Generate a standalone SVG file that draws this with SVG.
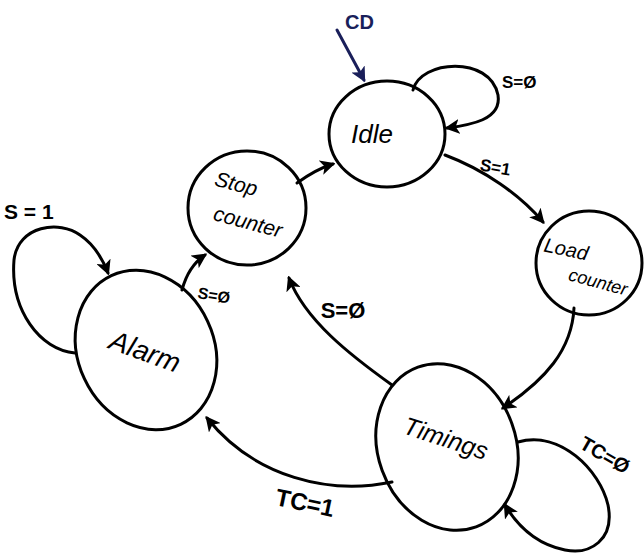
<svg xmlns="http://www.w3.org/2000/svg" width="644" height="554" viewBox="0 0 644 554">
<defs>
<style>
.st{fill:none;stroke:#000;stroke-width:3}
.cn{fill:none;stroke:#000;stroke-width:3;stroke-linecap:round}
.lb{font-family:"Liberation Sans",Arial,sans-serif;font-weight:bold;fill:#000}
.nm{font-family:"Liberation Sans",Arial,sans-serif;font-style:italic;fill:#000}
</style>
<marker id="ah" viewBox="0 0 12 12" refX="10" refY="6" markerWidth="5" markerHeight="5" orient="auto" markerUnits="strokeWidth">
<path d="M0,0 L12,6 L0,12 L3,6 Z" fill="#000"/>
</marker>
<marker id="ahb" viewBox="0 0 12 12" refX="10" refY="6" markerWidth="5" markerHeight="5" orient="auto" markerUnits="strokeWidth">
<path d="M0,0 L12,6 L0,12 L3,6 Z" fill="#1a1f5a"/>
</marker>
</defs>
<rect width="644" height="554" fill="#fff"/>

<g id="connectors">
<path class="cn" d="M337,30 L364,80" style="stroke:#1a1f5a" marker-end="url(#ahb)"/>
<path class="cn" d="M413,90 C420,60 490,55 498,95 C502,120 470,125 447,128" marker-end="url(#ah)"/>
<path class="cn" d="M445,155 C485,170 520,195 543,222" marker-end="url(#ah)"/>
<path class="cn" d="M574,308 C572,350 545,380 503,408" marker-end="url(#ah)"/>
<path class="cn" d="M392,385 C350,355 305,320 289,278" marker-end="url(#ah)"/>
<path class="cn" d="M392,482 C330,495 255,478 207,418" marker-end="url(#ah)"/>
<path class="cn" d="M75,353 C40,350 10,310 14,260 C18,225 60,220 80,235 C95,245 103,260 108,273" marker-end="url(#ah)"/>
<path class="cn" d="M182,290 C186,275 193,263 205,255" marker-end="url(#ah)"/>
<path class="cn" d="M297,183 C308,175 320,168 333,164" marker-end="url(#ah)"/>
<path class="cn" d="M518,442 C560,430 600,470 608,505 C615,540 590,555 565,550 C540,545 520,530 505,505" marker-end="url(#ah)"/>
</g>

<g id="labels">
<text class="lb" x="345" y="29" font-size="20" style="fill:#1a1f5a">CD</text>
<text class="lb" x="502" y="88" font-size="17">S=Ø</text>
<text class="lb" x="480" y="173" font-size="17" transform="rotate(10 495 167)">S=1</text>
<text class="lb" x="4" y="219" font-size="21">S = 1</text>
<text class="lb" x="214" y="301" font-size="16" text-anchor="middle" transform="rotate(10 214 295)">S=Ø</text>
<text class="lb" x="343" y="318" font-size="22" text-anchor="middle">S=Ø</text>
<text class="lb" x="305" y="511" font-size="24" text-anchor="middle" transform="rotate(12 305 503)">TC=1</text>
<text class="lb" x="605" y="462" font-size="20" text-anchor="middle" transform="rotate(30 605 455)">TC=Ø</text>
</g>

<g id="idle">
<ellipse class="st" cx="387" cy="134" rx="58" ry="53"/>
<text class="nm" x="372" y="143" font-size="26" text-anchor="middle">Idle</text>
</g>
<g id="stop-counter">
<ellipse class="st" cx="247" cy="208" rx="59" ry="57"/>
<text class="nm" x="236" y="191" font-size="21" text-anchor="middle" transform="rotate(15 236 185)">Stop</text>
<text class="nm" x="248" y="229" font-size="21" text-anchor="middle" transform="rotate(15 248 222)">counter</text>
</g>
<g id="load-counter">
<ellipse class="st" cx="589" cy="263" rx="53" ry="52"/>
<text class="nm" x="566" y="256" font-size="20" text-anchor="middle" transform="rotate(12 566 250)">Load</text>
<text class="nm" x="598" y="288" font-size="18" text-anchor="middle" transform="rotate(15 598 282)">counter</text>
</g>
<g id="alarm">
<ellipse class="st" cx="146" cy="350" rx="68" ry="82" transform="rotate(-25 146 350)"/>
<text class="nm" x="145" y="361" font-size="28" text-anchor="middle" transform="rotate(20 145 352)">Alarm</text>
</g>
<g id="timings">
<ellipse class="st" cx="447" cy="447" rx="69" ry="85" transform="rotate(-20 447 447)"/>
<text class="nm" x="446" y="447" font-size="25" text-anchor="middle" transform="rotate(18 446 438)">Timings</text>
</g>
</svg>
